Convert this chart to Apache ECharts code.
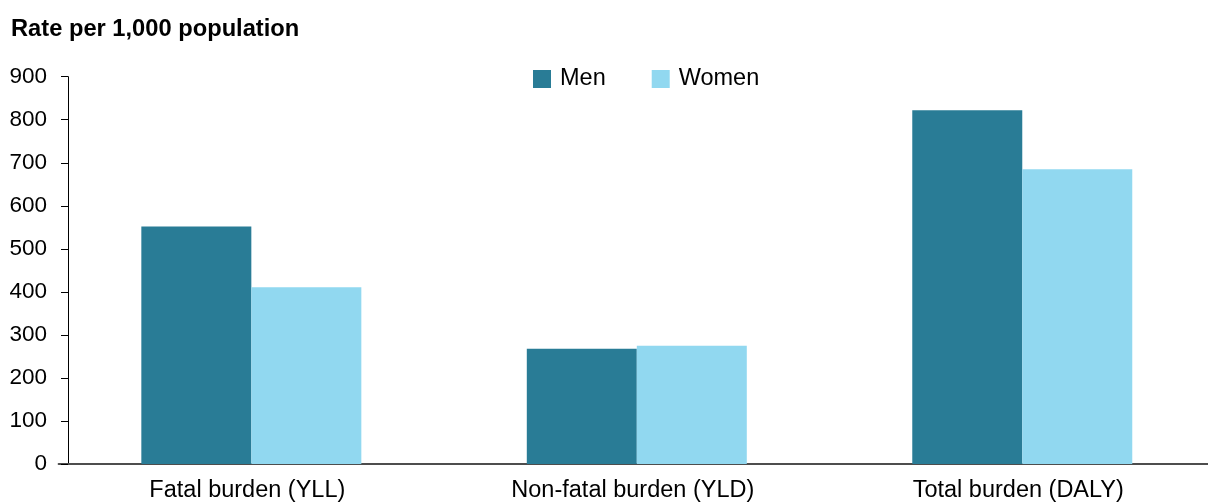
<!DOCTYPE html>
<html>
<head>
<meta charset="utf-8">
<script src="https://cdn.jsdelivr.net/npm/echarts@6/dist/echarts.min.js"></script>
<style>
html,body{margin:0;padding:0;background:#fff;overflow:hidden;width:1208px;height:503px;}
#chart{width:1215px;height:503px;}
</style>
</head>
<body>
<div id="chart"></div>
<script>
const categories = ['Fatal burden (YLL)', 'Non-fatal burden (YLD)', 'Total burden (DALY)'];
const men = [552, 268, 822];
const women = [411, 275, 685];
const seriesNames = ['Men', 'Women'];
const yTicks = [0, 100, 200, 300, 400, 500, 600, 700, 800, 900];
const titleText = 'Rate per 1,000 population';

const chart = echarts.init(document.getElementById('chart'), null, {renderer: 'canvas'});
const font = "'Liberation Sans', Arial, sans-serif";
chart.setOption({
  animation: false,
  backgroundColor: '#fff',
  title: {
    text: titleText,
    left: 6, top: 12,
    textStyle: {fontFamily: font, fontSize: 23.7, fontWeight: 'bold', color: '#000'}
  },
  legend: {
    data: seriesNames,
    left: 528, top: 62,
    itemWidth: 18, itemHeight: 18, itemGap: 46,
    icon: 'rect',
    textStyle: {fontFamily: font, fontSize: 23.5, color: '#000', padding: [0, 0, 0, 4]}
  },
  grid: {left: 58.6, right: 0, top: 76.7, bottom: 38.5, containLabel: false},
  xAxis: {
    type: 'category',
    data: categories,
    axisLine: {lineStyle: {color: '#4d4d4d', width: 2}},
    axisTick: {show: false},
    axisLabel: {fontFamily: font, fontSize: 23.5, color: '#000', margin: 15, padding: [0, 8, 0, 0]}
  },
  yAxis: {
    type: 'value',
    min: yTicks[0], max: yTicks[yTicks.length - 1], interval: 100,
    offset: -9.4,
    splitLine: {show: false},
    axisLine: {show: true, lineStyle: {color: '#000', width: 1}},
    axisTick: {show: true, length: 7, lineStyle: {color: '#000'}},
    axisLabel: {fontFamily: font, fontSize: 22.5, color: '#000', margin: 21}
  },
  series: [
    {name: seriesNames[0], type: 'bar', data: men, barWidth: 110, barGap: '0%',
     itemStyle: {color: '#297c96'}},
    {name: seriesNames[1], type: 'bar', data: women, barWidth: 110, barGap: '0%',
     itemStyle: {color: '#91d8f0'}}
  ]
});
</script>
</body>
</html>
